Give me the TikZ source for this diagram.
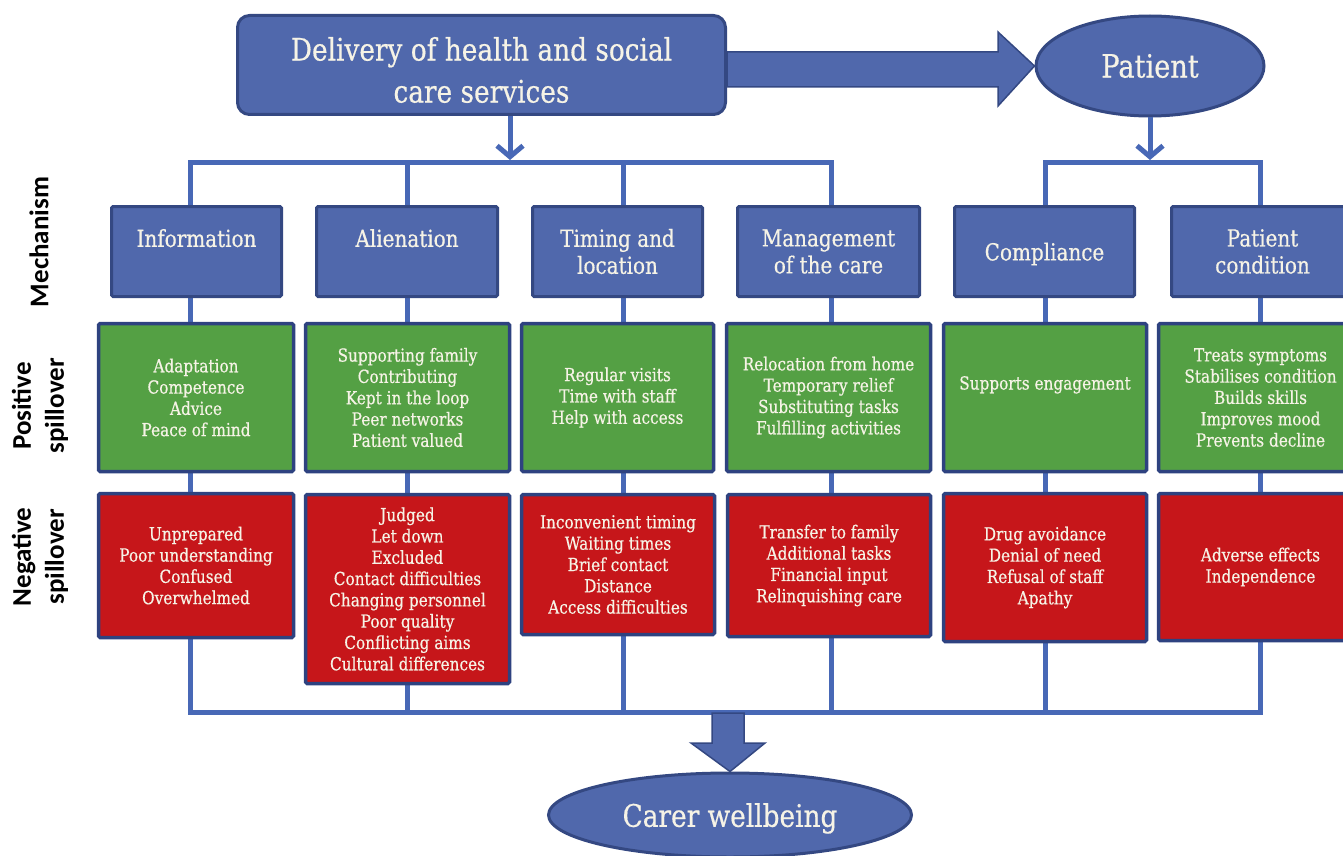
\documentclass[tikz,border=0pt]{standalone}
\usepackage{fontspec}
\usetikzlibrary{shapes.geometric,arrows.meta,backgrounds,calc}
\newfontfamily\bodyfont{DejaVu Serif}[FakeStretch=0.85,FakeBold=0.5]
\newfontfamily\labfont{Carlito}
\definecolor{mechblue}{RGB}{80,104,172}
\definecolor{mechbord}{RGB}{52,72,130}
\definecolor{posgreen}{RGB}{84,160,68}
\definecolor{negred}{RGB}{198,22,26}
\definecolor{boxbord}{RGB}{46,66,128}
\definecolor{linecol}{RGB}{72,104,182}
\definecolor{txtcol}{RGB}{246,243,230}
\begin{document}
\begin{tikzpicture}[x=1pt,y=-1pt,
  base/.style={rectangle, inner sep=0pt, align=center, text=txtcol},
  topbox/.style={base, fill=mechblue, draw=mechbord, line width=3pt, rounded corners=12pt},
  toptext/.style={inner sep=0pt, align=center, text=txtcol, font=\bodyfont\fontsize{31}{42}\selectfont},
  oval/.style={ellipse, inner sep=0pt, fill=mechblue, draw=mechbord, line width=3pt, text=txtcol},
  mechbox/.style={base, fill=mechblue, draw=mechbord, line width=3pt, rounded corners=1.5pt,
     font=\bodyfont\fontsize{23.5}{27}\selectfont},
  posbox/.style={base, fill=posgreen, draw=boxbord, line width=3.5pt, rounded corners=1.5pt,
     font=\bodyfont\fontsize{18}{21.3}\selectfont},
  negbox/.style={base, fill=negred, draw=boxbord, line width=3.5pt, rounded corners=1.5pt,
     font=\bodyfont\fontsize{18}{21.3}\selectfont},
  rowlab/.style={rotate=90, align=center, inner sep=0pt, text=black,
     font=\labfont\bfseries\fontsize{27}{33}\selectfont},
  conn/.style={draw=linecol, line width=5pt, line cap=rect},
  thinarrow/.style={draw=linecol, line width=5pt, -{Straight Barb[length=11pt,width=26pt,line width=5pt]}},
  fatarrow/.style={fill=mechblue, draw=mechbord, line width=1.5pt, line join=miter}
]
\useasboundingbox (0,0) rectangle (1343,856);

% top row
\node[topbox, minimum width=488pt, minimum height=99pt] (deliv) at (481.5,65) {};
\node[toptext] (delivtext) at ($(deliv.center)+(0,5)$) {Delivery of health and social\\care services};
\node[oval, minimum width=228pt, minimum height=100pt, font=\bodyfont\fontsize{32}{38}\selectfont]
  (patient) at (1150,66) {Patient};

% row labels
\node[rowlab] (labM) at (39,242) {Mechanism};
\node[rowlab] (labP) at (40,406) {Positive\\spillover};
\node[rowlab] (labN) at (40,557) {Negative\\spillover};

% mechanism boxes
\node[mechbox, minimum width=170pt, minimum height=90pt] (m1) at (196.5,251.5) {Information\\\mbox{}};
\node[mechbox, minimum width=181pt, minimum height=90pt] (m2) at (407,251.5) {Alienation\\\mbox{}};
\node[mechbox, minimum width=170pt, minimum height=90pt] (m3) at (617.5,251.5) {Timing and\\location};
\node[mechbox, minimum width=182pt, minimum height=90pt] (m4) at (828.5,251.5) {Management\\of the care};
\node[mechbox, minimum width=180pt, minimum height=90pt, text depth=0pt] (m5) at (1044.5,251.5) {Compliance};
\node[mechbox, minimum width=182pt, minimum height=90pt] (m6) at (1262.5,251.5) {Patient\\condition};

% positive spillover
\node[posbox, minimum width=195pt, minimum height=148pt] (p1) at (196,397.5)
  {Adaptation\\Competence\\Advice\\Peace of mind};
\node[posbox, minimum width=204pt, minimum height=148pt] (p2) at (407.5,397.5)
  {Supporting family\\Contributing\\Kept in the loop\\Peer networks\\Patient valued};
\node[posbox, minimum width=192pt, minimum height=148pt] (p3) at (617.5,397.5)
  {Regular visits\\Time with staff\\Help with access};
\node[posbox, minimum width=204pt, minimum height=148pt] (p4) at (828.5,397.5)
  {Relocation from home\\Temporary relief\\Substituting tasks\\Fulfilling activities};
\node[posbox, minimum width=203pt, minimum height=148pt] (p5) at (1045,397.5)
  {Supports engagement\\[8pt]\mbox{}};
\node[posbox, minimum width=204pt, minimum height=148pt] (p6) at (1260.5,397.5)
  {Treats symptoms\\Stabilises condition\\Builds skills\\Improves mood\\Prevents decline};

% negative spillover
\node[negbox, minimum width=195pt, minimum height=144pt] (n1) at (196,565.5)
  {Unprepared\\Poor understanding\\Confused\\Overwhelmed};
\node[negbox, minimum width=204pt, minimum height=189pt] (n2) at (407.5,589)
  {Judged\\Let down\\Excluded\\Contact difficulties\\Changing personnel\\Poor quality\\Conflicting aims\\Cultural differences};
\node[negbox, minimum width=193pt, minimum height=140pt] (n3) at (618,564.5)
  {Inconvenient timing\\Waiting times\\Brief contact\\Distance\\Access difficulties};
\node[negbox, minimum width=203pt, minimum height=142pt] (n4) at (829,565.5)
  {Transfer to family\\Additional tasks\\Financial input\\Relinquishing care};
\node[negbox, minimum width=203pt, minimum height=148pt] (n5) at (1045,567.5)
  {Drug avoidance\\Denial of need\\Refusal of staff\\Apathy};
\node[negbox, minimum width=204pt, minimum height=147pt] (n6) at (1260.5,567)
  {Adverse effects\\Independence};

% carer wellbeing
\node[oval, minimum width=363pt, minimum height=84pt, text depth=0pt, font=\bodyfont\fontsize{31}{36}\selectfont]
  (carer) at (730,815) {Carer wellbeing};

% tree coordinates
\coordinate (t1) at (190,162);  \coordinate (b1) at (190,712);
\coordinate (t2) at (407,162);  \coordinate (b2) at (407,712);
\coordinate (t3) at (623,162);  \coordinate (b3) at (623,712);
\coordinate (t4) at (831,162);  \coordinate (b4) at (831,712);
\coordinate (t5) at (1045,162); \coordinate (b5) at (1045,712);
\coordinate (t6) at (1260,162); \coordinate (b6) at (1260,712);
\coordinate (hubL) at (510,160);
\coordinate (hubR) at (1150,160);

\begin{scope}[on background layer]
  \draw[conn] (b1) -- (t1) -- (t4) -- (b4);
  \draw[conn] (t2) -- (b2);
  \draw[conn] (t3) -- (b3);
  \draw[conn] (b5) -- (t5) -- (t6) -- (b6);
  \draw[conn] (b1) -- (b6);
\end{scope}

% thin arrows
\draw[thinarrow] (deliv.south -| hubL) -- (hubL);
\draw[thinarrow] (patient.south) -- (hubR);

% fat arrow delivery -> patient
\draw[fatarrow] (deliv.east |- 0,52) -- (998,52) -- (998,32) -- (patient.west)
  -- (998,106) -- (998,87) -- (deliv.east |- 0,87) -- cycle;

% fat arrow to carer wellbeing
\draw[fatarrow] (712,713) -- (744,713) -- (744,743) -- (765,743) -- (carer.north)
  -- (691,743) -- (712,743) -- cycle;
\end{tikzpicture}
\end{document}
